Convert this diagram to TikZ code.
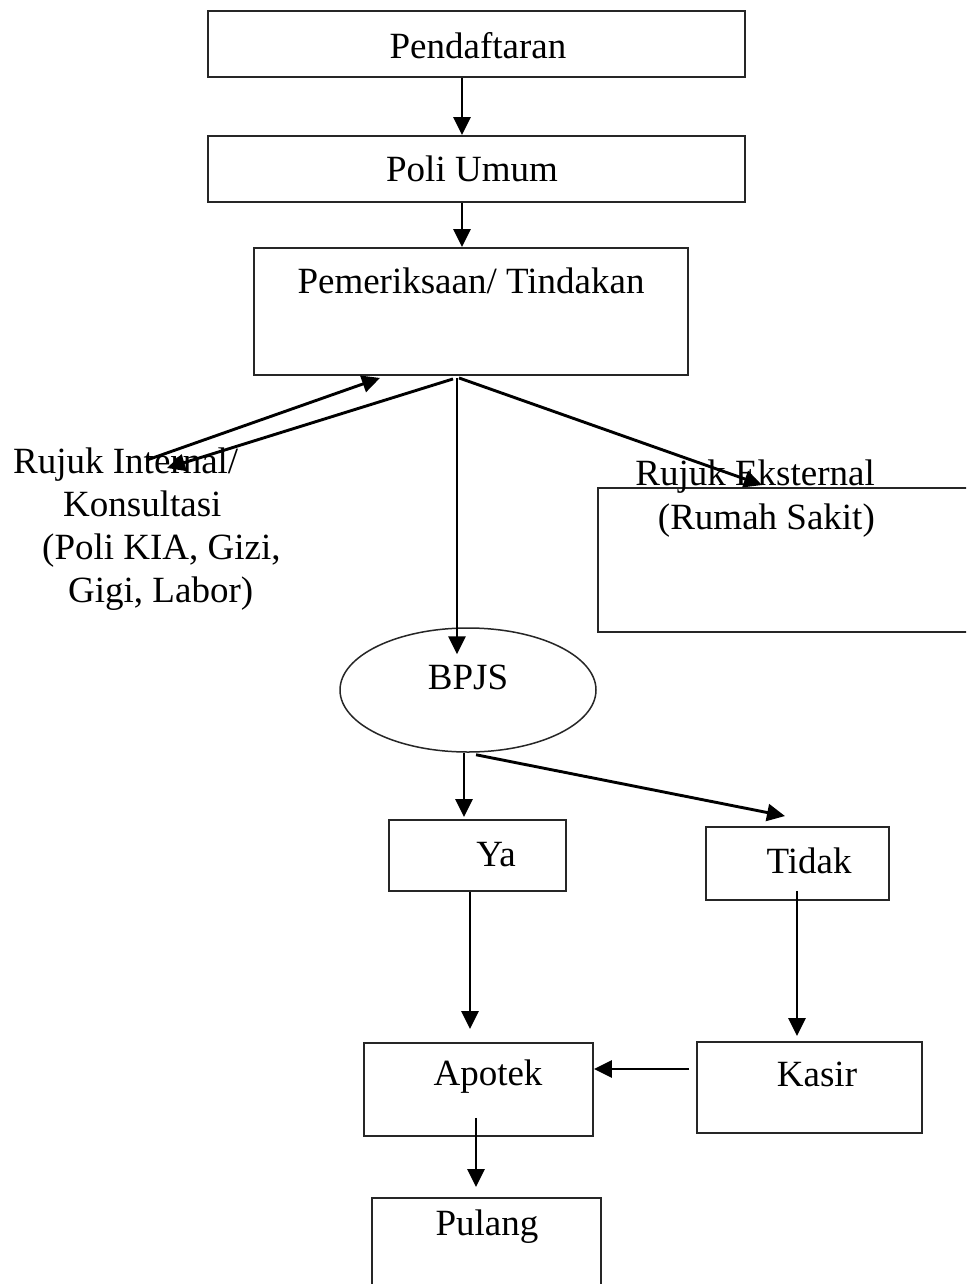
\documentclass[tikz,border=0pt]{standalone}
\usepackage{fontspec}
\setmainfont{Liberation Serif}
\usetikzlibrary{arrows.meta,shapes.geometric,calc}
\begin{document}
\begin{tikzpicture}[x=1pt,y=-1pt,
  box/.style={draw=black!85, line width=1.9pt, rectangle, inner sep=0pt},
  oval/.style={draw=black!85, line width=1.5pt, ellipse, inner sep=0pt},
  txt/.style={inner sep=0pt, anchor=base, font=\fontsize{37}{44}\selectfont},
  arr/.style={line width=2.9pt, -{Triangle[length=18pt,width=17pt]}},
]
\useasboundingbox (0,0) rectangle (966,1284);
\clip (0,0) rectangle (966,1284);
\fill[white] (0,0) rectangle (966,1284);

% boxes
\node[box, minimum width=537pt, minimum height=66pt] (pend) at (476.5,44) {};
\node[box, minimum width=537pt, minimum height=66pt] (poli) at (476.5,169) {};
\node[box, minimum width=434pt, minimum height=127pt] (pem) at (471,311.5) {};
\node[box, minimum width=402pt, minimum height=144pt] (eks) at (799,560) {};
\node[oval, minimum width=256pt, minimum height=124pt] (bpjs) at (468,690) {};
\node[box, minimum width=177pt, minimum height=71pt] (ya) at (477.5,855.5) {};
\node[box, minimum width=183pt, minimum height=73pt] (tidak) at (797.5,863.5) {};
\node[box, minimum width=229pt, minimum height=93pt] (apotek) at (478.5,1089.5) {};
\node[box, minimum width=225pt, minimum height=91pt] (kasir) at (809.5,1087.5) {};
\node[box, minimum width=229pt, minimum height=122pt] (pulang) at (486.5,1259) {};

% texts
\node[txt] (tpend) at (478,59) {Pendaftaran};
\node[txt] (tpoli) at (472,182) {Poli Umum};
\node[txt] (tpem) at (471,293) {Pemeriksaan/ Tindakan};
\node[txt, anchor=base west] (int1) at (13,473) {Rujuk Internal/};
\node[txt, anchor=base west] (int2) at (63,516) {Konsultasi};
\node[txt, anchor=base west] (int3) at (42,559) {(Poli KIA, Gizi,};
\node[txt, anchor=base west] (int4) at (68,602) {Gigi, Labor)};
\node[txt, anchor=base east] (eks1) at (875,485) {Rujuk Eksternal};
\node[txt, anchor=base east] (eks2) at (875,529) {(Rumah Sakit)};
\node[txt] (tbpjs) at (468,689) {BPJS};
\node[txt] (tya) at (496,866) {Ya};
\node[txt] (ttidak) at (809,873) {Tidak};
\node[txt] (tapotek) at (488,1085) {Apotek};
\node[txt] (tkasir) at (817,1086) {Kasir};
\node[txt] (tpulang) at (487,1235) {Pulang};

% connector ends
\coordinate (intA) at (147,460);
\coordinate (intB) at (167,468);

% arrows
\draw[arr] ($(pend.south)+(-14.5,0)$) -- ($(poli.north)+(-14.5,0)$);
\draw[arr] ($(poli.south)+(-14.5,0)$) -- ($(pem.north)+(-9,0)$);
\draw[arr] (intA) -- ($(pem.south)+(-91,2)$);
\draw[arr] ($(pem.south)+(-18,3)$) -- (intB);
\draw[arr] ($(pem.south)+(-14,2)$) -- ($(bpjs.north)+(-11,27)$);
\draw[arr] ($(pem.south)+(-12,2)$) -- ($(eks.north west)+(165,-2)$);
\draw[arr] ($(bpjs.south)+(-4,0)$) -- ($(ya.north)+(-13.5,-2)$);
\draw[arr] ($(bpjs.south)+(8,2)$) -- ($(tidak.north)+(-12.5,-10)$);
\draw[arr] ($(ya.south)+(-7.5,0)$) -- ($(apotek.north)+(-8.5,-13)$);
\draw[arr] ($(tidak.south)+(-0.5,-10)$) -- ($(kasir.north)+(-12.5,-5)$);
\draw[arr] ($(kasir.west)+(-7,-18.5)$) -- ($(apotek.east)+(0,-20.5)$);
\draw[arr] ($(apotek.south)+(-2.5,-19)$) -- ($(pulang.north)+(-10.5,-10)$);
\end{tikzpicture}
\end{document}
